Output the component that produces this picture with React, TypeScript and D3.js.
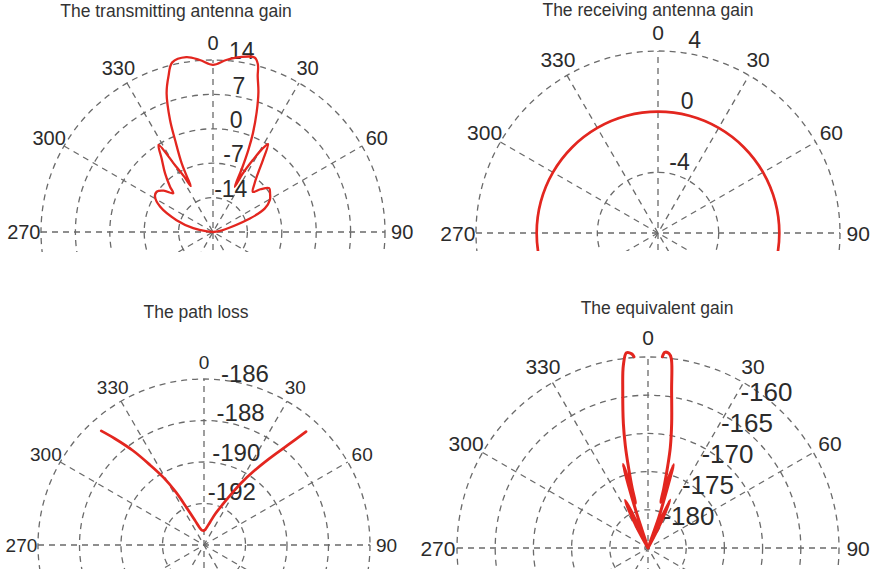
import React from 'react';
import * as d3 from 'd3';

const W = 880;
const H = 569;
const RED = '#e3261f';
const GRID = '#6a6a6a';
const TEXT = '#2b2b2b';
const FONT = '"Liberation Sans", Arial, Helvetica, sans-serif';

// Azimuth in degrees, clockwise from 0 at the top.
// Transmitting antenna gain (dB)
const txAngles = [-90, -85, -79, -72, -64.5, -58.7, -54.4, -50, -45.7, -43.5, -39.3, -35, -32, -29.6, -27.5, -25.8, -25.2, -24.5, -22.4, -21, -18.5, -16, -13.5, -8.7, -4.4, 0, 4.4, 8.7, 13.4, 15, 16, 18, 20, 22, 23.3, 24.5, 25.7, 27, 29, 30.5, 32, 34.8, 37.5, 40.6, 44.8, 48, 52, 56, 60.5, 65.5, 70, 75, 80, 90];
const txGain = [-21, -19.8, -16.9, -13.2, -9.1, -7.2, -6.9, -7.9, -9.7, -8.3, -5.6, -2.8, -0.1, -5.3, -8.3, -10.6, -8.5, -5.6, -0.75, 3.4, 8.75, 11.9, 14.5, 15.0, 14.1, 13.0, 14.1, 15.0, 15.5, 14.3, 12.0, 8.9, 5.0, 0.7, -2.8, -6.8, -10.8, -7.6, -4.2, -1.6, 0.1, -3.2, -6.0, -8.0, -9.5, -8.0, -6.5, -7.0, -7.7, -9.4, -13.0, -17.3, -19.3, -21];
const txTicks = [-14, -7, 0, 7, 14];

// Receiving antenna gain (dB), omnidirectional
const rxAngles = [0, 15, 30, 45, 60, 75, 90, 105, 120, 135, 150, 165, 180, 195, 210, 225, 240, 255, 270, 285, 300, 315, 330, 345];
const rxGain = [0, 0, 0, 0, 0, 0, 0, 0, 0, 0, 0, 0, 0, 0, 0, 0, 0, 0, 0, 0, 0, 0, 0, 0];
const rxTicks = [-4, 0, 4];

// Path loss (dB)
const plAngles = [-42, -40, -37, -34, -31, -28, -25, -20, -15, -10, -5, 0, 5, 10, 15, 20, 25, 28, 31, 34, 37, 40, 42];
const plLoss = [-186.6, -187.3, -188.3, -189.35, -190.2, -191.1, -192.0, -192.75, -193.1, -193.25, -193.3, -193.3, -193.25, -193.1, -192.85, -192.4, -191.8, -191.25, -190.5, -189.7, -188.8, -187.7, -186.65];
const plTicks = [-192, -190, -188, -186];

// Equivalent gain (dB); no value on boresight
const eqAngles = [-90, -45, -31, -28.5, -27, -25.5, -24.2, -22.5, -20.5, -18.2, -17.3, -16.6, -16.0, -15.4, -14.8, -13.5, -12.5, -11.2, -9.1, -7.7, -6.3, -4.8, -4.2, 0, 4.3, 4.9, 6.2, 7.0, 8.5, 10.75, 12.5, 13.5, 14.8, 15.5, 16.2, 17, 17.8, 19.5, 21.5, 23, 24.6, 26, 27.5, 30, 45, 90];
const eqGain = [-185, -185, -185, -182.2, -179.8, -178.1, -180.2, -183.5, -184.6, -180.6, -176.4, -173.6, -176.2, -178.9, -176.9, -173.9, -171.3, -168.4, -164.1, -160.9, -159.3, -159.5, -159.9, NaN, -159.9, -159.3, -159.4, -160.0, -164.1, -168.4, -171.5, -173.9, -176.9, -178.8, -176.2, -173.6, -176.6, -180.8, -184.6, -183.0, -178.1, -180.0, -182.4, -185, -185, -185];
const eqTicks = [-180, -175, -170, -165, -160];

// Compass labels on the visible upper half
const angleTicks = [0, 30, 60, 90, 270, 300, 330];

type PanelSpec = {
  id: string;
  title: string;
  titleX: number;
  titleY: number;
  cx: number;
  cy: number;
  R: number;
  clipBottom: number;
  domain: [number, number];
  ticks: number[];
  angles: number[];
  values: number[];
  closed?: boolean;
  angleFont: number;
  ringFont: number;
  ringLabel: { ax: number; bx: number; ay: number; by: number };
  stroke: number;
};

const panels: PanelSpec[] = [
  {
    id: 'tx', title: 'The transmitting antenna gain', titleX: 176, titleY: 17,
    cx: 213, cy: 232, R: 172, clipBottom: 252, domain: [-21, 14], ticks: txTicks,
    angles: txAngles, values: txGain, angleFont: 20, ringFont: 23,
    ringLabel: { ax: 15, bx: 0.08, ay: 9, by: 1 }, stroke: 2.3,
  },
  {
    id: 'rx', title: 'The receiving antenna gain', titleX: 648, titleY: 16,
    cx: 658, cy: 233, R: 182, clipBottom: 251, domain: [-8, 4], ticks: rxTicks,
    angles: rxAngles, values: rxGain, closed: true, angleFont: 21, ringFont: 23,
    ringLabel: { ax: 14, bx: 0.125, ay: 11, by: 1 }, stroke: 2.7,
  },
  {
    id: 'pl', title: 'The path loss', titleX: 196, titleY: 318,
    cx: 204, cy: 545, R: 166, clipBottom: H, domain: [-194, -186], ticks: plTicks,
    angles: plAngles, values: plLoss, angleFont: 19, ringFont: 24,
    ringLabel: { ax: 23.5, bx: 0.105, ay: 14, by: 0.95 }, stroke: 2.7,
  },
  {
    id: 'eq', title: 'The equivalent gain', titleX: 657, titleY: 314,
    cx: 648, cy: 548, R: 191, clipBottom: H, domain: [-185, -160], ticks: eqTicks,
    angles: eqAngles, values: eqGain, angleFont: 21, ringFont: 26,
    ringLabel: { ax: 21, bx: 0.51, ay: 1.5, by: 0.81 }, stroke: 3,
  },
];

function PolarPanel({ spec }: { spec: PanelSpec }) {
  const { cx, cy, R } = spec;
  const rScale = d3.scaleLinear().domain(spec.domain).range([0, R]);
  const toRad = (deg: number) => (deg * Math.PI) / 180;
  const spokes = d3.range(0, 180, 30);
  const idx = d3.range(spec.angles.length);

  const line = d3
    .lineRadial<number>()
    .angle((i) => toRad(spec.angles[i]))
    .radius((i) => Math.max(0, rScale(spec.values[i])))
    .defined((i) => Number.isFinite(spec.values[i]))
    .curve(spec.closed ? d3.curveCatmullRomClosed.alpha(0.5) : d3.curveCatmullRom.alpha(0.5));

  const clipId = `clip-${spec.id}`;
  const { ax, bx, ay, by } = spec.ringLabel;

  return (
    <g>
      <defs>
        <clipPath id={clipId}>
          <rect x={0} y={0} width={W} height={spec.clipBottom} />
        </clipPath>
      </defs>
      <g clipPath={`url(#${clipId})`}>
        <g transform={`translate(${cx},${cy})`}>
          {spokes.map((a) => {
            const t = toRad(a);
            return (
              <line
                key={`s${a}`}
                x1={-R * Math.sin(t)}
                y1={R * Math.cos(t)}
                x2={R * Math.sin(t)}
                y2={-R * Math.cos(t)}
                stroke={GRID}
                strokeWidth={1.3}
                strokeDasharray="6 5"
              />
            );
          })}
          {spec.ticks.map((v) => (
            <circle
              key={`c${v}`}
              r={rScale(v)}
              fill="none"
              stroke={GRID}
              strokeWidth={1.3}
              strokeDasharray="6 5"
            />
          ))}
        </g>
      </g>
      <g transform={`translate(${cx},${cy})`}>
        {angleTicks.map((a) => {
          const t = toRad(a);
          return (
            <text
              key={`a${a}`}
              x={1.1 * R * Math.sin(t)}
              y={-1.1 * R * Math.cos(t)}
              dy="0.36em"
              textAnchor="middle"
              fontSize={spec.angleFont}
              fontFamily={FONT}
              fill={TEXT}
            >
              {a}
            </text>
          );
        })}
        {spec.ticks.map((v) => {
          const rr = rScale(v);
          return (
            <text
              key={`l${v}`}
              x={ax + bx * rr}
              y={-(ay + by * rr)}
              dy="0.36em"
              textAnchor="middle"
              fontSize={spec.ringFont}
              fontFamily={FONT}
              fill={TEXT}
            >
              {v}
            </text>
          );
        })}
      </g>
      <g clipPath={`url(#${clipId})`}>
        <g transform={`translate(${cx},${cy})`}>
          <path
            d={line(idx) ?? ''}
            fill="none"
            stroke={RED}
            strokeWidth={spec.stroke}
            strokeLinejoin="round"
            strokeLinecap="round"
          />
        </g>
      </g>
      <text
        x={spec.titleX}
        y={spec.titleY}
        textAnchor="middle"
        fontSize={17.5}
        fontFamily={FONT}
        fill="#333"
      >
        {spec.title}
      </text>
    </g>
  );
}

export default function App() {
  return (
    <svg
      width={W}
      height={H}
      viewBox={`0 0 ${W} ${H}`}
      style={{ position: 'absolute', left: 0, top: 0, background: '#fff' }}
    >
      <rect width={W} height={H} fill="#fff" />
      {panels.map((p) => (
        <PolarPanel key={p.id} spec={p} />
      ))}
    </svg>
  );
}
